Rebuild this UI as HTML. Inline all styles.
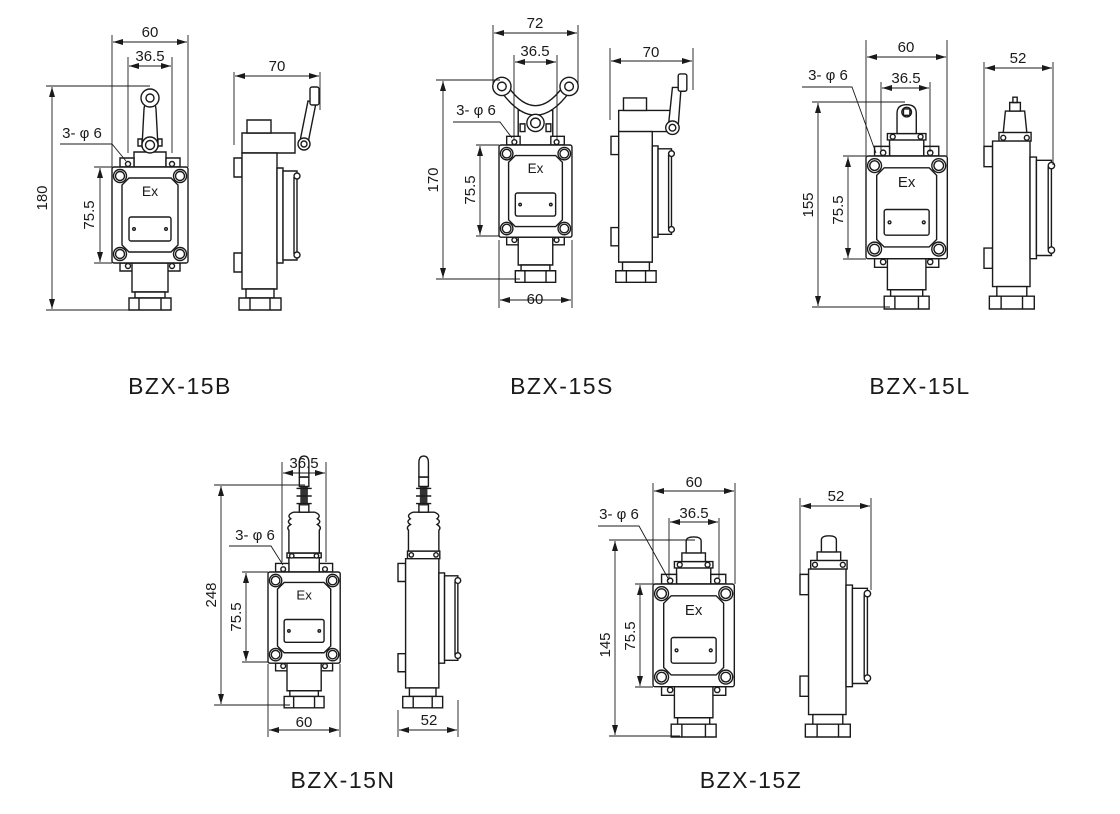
<!DOCTYPE html>
<html><head><meta charset="utf-8"><style>
html,body{margin:0;padding:0;background:#fff;}
svg{display:block;}
.s{fill:#fff;stroke:#1a1a1a;stroke-width:1.4;vector-effect:non-scaling-stroke;}
.n{fill:none;stroke:#1a1a1a;stroke-width:1.4;vector-effect:non-scaling-stroke;}
.d{fill:none;stroke:#1a1a1a;stroke-width:0.9;}
.t{font-family:"Liberation Sans",Arial,sans-serif;font-size:15px;fill:#1a1a1a;text-anchor:middle;}
.lb{font-family:"Liberation Sans",Arial,sans-serif;font-size:23px;letter-spacing:1.5px;fill:#1a1a1a;text-anchor:middle;}
</style></head><body>
<svg width="1120" height="814" viewBox="0 0 1120 814" xmlns="http://www.w3.org/2000/svg">
<defs>
<marker id="a" viewBox="0 0 10 6" refX="10" refY="3" markerWidth="10" markerHeight="6" orient="auto-start-reverse" markerUnits="userSpaceOnUse"><path d="M0,0 L10,3 L0,6 Z" fill="#1a1a1a"/></marker>
<g id="fb">
 <rect class="s" x="8" y="-9" width="14" height="9"/><rect class="s" x="54" y="-9" width="14" height="9"/>
 <circle class="s" cx="16" cy="-3" r="2.5"/><circle class="s" cx="60" cy="-3" r="2.5"/>
 <rect class="s" x="8" y="96" width="60" height="8"/>
 <rect class="s" x="20" y="96" width="36" height="29"/>
 <rect class="s" x="23" y="125" width="30" height="6"/>
 <rect class="s" x="17" y="131" width="42" height="12"/>
 <path class="n" d="M27,131V143M49,131V143"/>
 <circle class="s" cx="16" cy="99" r="2.5"/><circle class="s" cx="60" cy="99" r="2.5"/>
 <rect class="s" x="0" y="0" width="76" height="96" rx="2"/>
 <path class="n" d="M17,11H59L66,18V78L59,85H17L10,78V18Z"/>
 <circle class="s" cx="8" cy="9" r="6.5"/><circle cx="8" cy="9" r="4.5" fill="#ddd" class="n"/>
 <circle class="s" cx="68" cy="9" r="6.5"/><circle cx="68" cy="9" r="4.5" fill="#ddd" class="n"/>
 <circle class="s" cx="8" cy="87" r="6.5"/><circle cx="8" cy="87" r="4.5" fill="#ddd" class="n"/>
 <circle class="s" cx="68" cy="87" r="6.5"/><circle cx="68" cy="87" r="4.5" fill="#ddd" class="n"/>
 <text x="38" y="29" class="t" style="font-size:14px">Ex</text>
 <rect class="s" x="17" y="50" width="42" height="24" rx="2"/>
 <circle class="n" cx="22" cy="62" r="1.3"/><circle class="n" cx="54" cy="62" r="1.3"/>
</g>
<g id="sb">
 <rect class="s" x="0" y="-9" width="8" height="19"/><rect class="s" x="0" y="86" width="8" height="19"/>
 <rect class="s" x="8" y="-14" width="35" height="136"/>
 <rect class="s" x="12" y="122" width="28" height="9"/>
 <rect class="s" x="5" y="131" width="42" height="12"/>
 <path class="n" d="M16,131V143M36,131V143"/>
 <rect class="s" x="43" y="1" width="6" height="95"/>
 <rect class="s" x="49" y="4" width="14" height="89"/>
 <path class="n" d="M60,10V87"/>
 <circle class="s" cx="63" cy="9" r="3"/><circle class="s" cx="63" cy="88" r="3"/>
</g>
<g id="ft">
 <rect class="s" x="22" y="-15" width="32" height="15"/>
</g>
</defs>

<!-- ============ BZX-15B ============ -->
<g transform="translate(112,167)">
 <use href="#ft"/>
 <path class="s" d="M30,-20 L32,-58 Q33,-66 38,-66 Q43,-66 44,-58 L46,-20 Z"/>
 <circle class="s" cx="38" cy="-69" r="9"/><circle class="s" cx="38" cy="-69" r="4"/>
 <rect class="s" x="26" y="-28" width="4" height="7"/><rect class="s" x="46" y="-28" width="4" height="7"/>
 <circle class="s" cx="38" cy="-22" r="8"/><circle class="s" cx="38" cy="-22" r="4.5"/>
 <use href="#fb"/>
</g>
<g transform="translate(234,167)">
 <rect class="s" x="8" y="-34" width="53" height="20"/>
 <rect class="s" x="13" y="-47" width="24" height="13"/>
 <path class="s" d="M66,-26 L74,-66 L82,-64 L74,-24 Z"/>
 <rect class="s" x="76" y="-80" width="9" height="18" rx="2"/>
 <circle class="s" cx="70" cy="-23" r="6"/><circle class="s" cx="70" cy="-23" r="3"/>
 <use href="#sb"/>
</g>
<g>
 <path class="d" d="M112,35V167M188,35V167M128,57V153M172,57V153"/>
 <path class="d" d="M113,42H187" marker-start="url(#a)" marker-end="url(#a)"/>
 <path class="d" d="M129,66H171" marker-start="url(#a)" marker-end="url(#a)"/>
 <text x="150" y="37" class="t">60</text><text x="150" y="61" class="t">36.5</text>
 <path class="d" d="M46,86H150M46,310H132"/>
 <path class="d" d="M52,87V309" marker-start="url(#a)" marker-end="url(#a)"/>
 <text class="t" transform="translate(47,198) rotate(-90)">180</text>
 <path class="d" d="M94,167H112M94,263H112"/>
 <path class="d" d="M100,168V262" marker-start="url(#a)" marker-end="url(#a)"/>
 <text class="t" transform="translate(94,215) rotate(-90)">75.5</text>
 <text x="82" y="138" class="t">3- φ 6</text>
 <path class="d" d="M60,144H112L126,161"/>
 <path class="d" d="M234,72V145M320,72V110"/>
 <path class="d" d="M235,76H319" marker-start="url(#a)" marker-end="url(#a)"/>
 <text x="277" y="71" class="t">70</text>
 <text x="180" y="394" class="lb">BZX-15B</text>
</g>

<!-- ============ BZX-15S ============ -->
<g transform="translate(499,145) scale(0.96)">
 <rect class="s" x="20" y="-36" width="36" height="36"/>
 <path class="s" d="M2,-56 Q38,-6 74,-56 L66,-60 Q38,-22 10,-60 Z"/>
 <circle class="s" cx="3" cy="-61" r="9.5"/><circle class="s" cx="3" cy="-61" r="4.5"/>
 <circle class="s" cx="73" cy="-61" r="9.5"/><circle class="s" cx="73" cy="-61" r="4.5"/>
 <rect class="s" x="22" y="-22" width="5" height="8"/><rect class="s" x="49" y="-22" width="5" height="8"/>
 <circle class="s" cx="38" cy="-23" r="9"/><circle class="s" cx="38" cy="-23" r="5"/>
 <use href="#fb"/>
</g>
<g transform="translate(611,145) scale(0.96)">
 <rect class="s" x="8" y="-36" width="54" height="22"/>
 <rect class="s" x="13" y="-49" width="24" height="13"/>
 <path class="s" d="M60,-22 L64,-60 L73,-60 L70,-20 Z"/>
 <rect class="s" x="70" y="-74" width="9" height="18" rx="2"/>
 <circle class="s" cx="64" cy="-18" r="7"/><circle class="s" cx="64" cy="-18" r="3.5"/>
 <use href="#sb"/>
</g>
<g>
 <path class="d" d="M493,25V85M578,25V85M514,55V140M557,55V140"/>
 <path class="d" d="M494,33H577" marker-start="url(#a)" marker-end="url(#a)"/>
 <path class="d" d="M515,62H556" marker-start="url(#a)" marker-end="url(#a)"/>
 <text x="535" y="28" class="t">72</text><text x="535" y="56" class="t">36.5</text>
 <path class="d" d="M436,80H500M436,279H520"/>
 <path class="d" d="M443,81V278" marker-start="url(#a)" marker-end="url(#a)"/>
 <text class="t" transform="translate(438,180) rotate(-90)">170</text>
 <path class="d" d="M476,145H499M476,236H499"/>
 <path class="d" d="M480,146V235" marker-start="url(#a)" marker-end="url(#a)"/>
 <text class="t" transform="translate(475,190) rotate(-90)">75.5</text>
 <text x="476" y="115" class="t">3- φ 6</text>
 <path class="d" d="M453,122H500L512,138"/>
 <path class="d" d="M499,240V308M572,240V308"/>
 <path class="d" d="M500,300H571" marker-start="url(#a)" marker-end="url(#a)"/>
 <text x="535" y="304" class="t">60</text>
 <path class="d" d="M610,48V120M693,48V90"/>
 <path class="d" d="M611,61H692" marker-start="url(#a)" marker-end="url(#a)"/>
 <text x="651" y="57" class="t">70</text>
 <text x="562" y="394" class="lb">BZX-15S</text>
</g>

<!-- ============ BZX-15L ============ -->
<g transform="translate(866,156) scale(1.07)">
 <use href="#ft"/>
 <rect class="s" x="20" y="-21" width="36" height="6"/>
 <circle class="s" cx="25" cy="-18" r="2.3"/><circle class="s" cx="51" cy="-18" r="2.3"/>
 <path class="s" d="M29,-21 V-40 Q29,-48 38,-48 Q47,-48 47,-40 V-21 Z"/>
 <circle class="s" cx="38" cy="-41" r="4.5"/><rect class="n" x="35" y="-44" width="6" height="6"/>
 <use href="#fb"/>
</g>
<g transform="translate(984,156) scale(1.07)">
 <rect class="s" x="14" y="-22" width="30" height="8"/>
 <circle class="s" cx="18" cy="-17" r="2.3"/><circle class="s" cx="40" cy="-17" r="2.3"/>
 <path class="s" d="M18,-22 L20,-42 H38 L40,-22 Z"/>
 <rect class="s" x="24" y="-50" width="10" height="8"/>
 <rect class="s" x="27" y="-55" width="4" height="5"/>
 <use href="#sb"/>
</g>
<g>
 <path class="d" d="M866,40V156M947,40V156M881,82V152M930,82V152"/>
 <path class="d" d="M867,57H946" marker-start="url(#a)" marker-end="url(#a)"/>
 <path class="d" d="M882,88H929" marker-start="url(#a)" marker-end="url(#a)"/>
 <text x="906" y="52" class="t">60</text><text x="906" y="83" class="t">36.5</text>
 <path class="d" d="M812,102H905M812,307H890"/>
 <path class="d" d="M818,103V306" marker-start="url(#a)" marker-end="url(#a)"/>
 <text class="t" transform="translate(813,205) rotate(-90)">155</text>
 <path class="d" d="M843,156H866M843,259H866"/>
 <path class="d" d="M848,157V258" marker-start="url(#a)" marker-end="url(#a)"/>
 <text class="t" transform="translate(843,210) rotate(-90)">75.5</text>
 <text x="828" y="80" class="t">3- φ 6</text>
 <path class="d" d="M802,87H852L876,153"/>
 <path class="d" d="M984,62V150M1053,62V165"/>
 <path class="d" d="M985,68H1052" marker-start="url(#a)" marker-end="url(#a)"/>
 <text x="1018" y="63" class="t">52</text>
 <text x="920" y="394" class="lb">BZX-15L</text>
</g>

<!-- ============ BZX-15N ============ -->
<g transform="translate(268,572) scale(0.95)">
 <use href="#ft"/>
 <rect class="s" x="20" y="-20" width="36" height="5"/>
 <circle class="s" cx="25" cy="-17" r="2.3"/><circle class="s" cx="51" cy="-17" r="2.3"/>
 <path class="s" d="M22,-20 V-44 Q19,-47 24,-50 Q19,-53 24,-56 Q19,-60 27,-63 H49 Q57,-60 52,-56 Q57,-53 52,-50 Q57,-47 54,-44 V-20 Z"/>
 <rect class="s" x="33" y="-71" width="10" height="8"/>
 <rect fill="#333" x="34" y="-90" width="8" height="20"/>
 <path class="n" d="M30,-88H46M30,-80H46M30,-72H46"/>
 <rect class="s" x="33" y="-100" width="10" height="10"/>
 <path class="s" d="M33,-100 V-115 Q33,-122 38,-122 Q43,-122 43,-115 V-100 Z"/>
 <use href="#fb"/>
</g>
<g transform="translate(398,572) scale(0.95)">
 <rect class="s" x="10" y="-22" width="34" height="8"/>
 <circle class="s" cx="14" cy="-18" r="2.3"/><circle class="s" cx="40" cy="-18" r="2.3"/>
 <path class="s" d="M11,-22 V-44 Q8,-47 13,-50 Q8,-53 13,-56 Q8,-60 16,-63 H38 Q46,-60 41,-56 Q46,-53 41,-50 Q46,-47 43,-44 V-22 Z"/>
 <rect class="s" x="22" y="-71" width="10" height="8"/>
 <rect fill="#333" x="23" y="-90" width="8" height="20"/>
 <path class="n" d="M19,-88H35M19,-80H35M19,-72H35"/>
 <rect class="s" x="22" y="-100" width="10" height="10"/>
 <path class="s" d="M22,-100 V-115 Q22,-122 27,-122 Q32,-122 32,-115 V-100 Z"/>
 <use href="#sb"/>
</g>
<g>
 <path class="d" d="M282,462V562M326,462V562"/>
 <path class="d" d="M283,473H325" marker-start="url(#a)" marker-end="url(#a)"/>
 <text x="304" y="468" class="t">36.5</text>
 <path class="d" d="M214,485H305M214,705H290"/>
 <path class="d" d="M221,486V704" marker-start="url(#a)" marker-end="url(#a)"/>
 <text class="t" transform="translate(216,595) rotate(-90)">248</text>
 <path class="d" d="M242,572H268M242,662H268"/>
 <path class="d" d="M246,573V661" marker-start="url(#a)" marker-end="url(#a)"/>
 <text class="t" transform="translate(241,617) rotate(-90)">75.5</text>
 <text x="255" y="540" class="t">3- φ 6</text>
 <path class="d" d="M229,546H271L283,565"/>
 <path class="d" d="M268,664V737M340,664V737"/>
 <path class="d" d="M269,730H339" marker-start="url(#a)" marker-end="url(#a)"/>
 <text x="304" y="727" class="t">60</text>
 <path class="d" d="M398,710V737M458,700V737"/>
 <path class="d" d="M399,730H457" marker-start="url(#a)" marker-end="url(#a)"/>
 <text x="429" y="725" class="t">52</text>
 <text x="343" y="788" class="lb">BZX-15N</text>
</g>

<!-- ============ BZX-15Z ============ -->
<g transform="translate(653,584) scale(1.07)">
 <use href="#ft"/>
 <rect class="s" x="20" y="-21" width="36" height="6"/>
 <circle class="s" cx="25" cy="-18" r="2.3"/><circle class="s" cx="51" cy="-18" r="2.3"/>
 <rect class="s" x="27" y="-29" width="22" height="8"/>
 <path class="s" d="M31,-29 V-40 Q31,-44 38,-44 Q45,-44 45,-40 V-29 Z"/>
 <use href="#fb"/>
</g>
<g transform="translate(800,584) scale(1.07)">
 <rect class="s" x="10" y="-22" width="34" height="8"/>
 <circle class="s" cx="14" cy="-18" r="2.3"/><circle class="s" cx="40" cy="-18" r="2.3"/>
 <rect class="s" x="16" y="-30" width="22" height="8"/>
 <path class="s" d="M20,-30 V-41 Q20,-45 27,-45 Q34,-45 34,-41 V-30 Z"/>
 <use href="#sb"/>
</g>
<g>
 <path class="d" d="M653,483V584M735,483V584M669,518V578M719,518V578"/>
 <path class="d" d="M654,491H734" marker-start="url(#a)" marker-end="url(#a)"/>
 <path class="d" d="M670,522H718" marker-start="url(#a)" marker-end="url(#a)"/>
 <text x="694" y="487" class="t">60</text><text x="694" y="518" class="t">36.5</text>
 <path class="d" d="M609,540H695M609,736H680"/>
 <path class="d" d="M615,541V735" marker-start="url(#a)" marker-end="url(#a)"/>
 <text class="t" transform="translate(610,645) rotate(-90)">145</text>
 <path class="d" d="M635,584H653M635,687H653"/>
 <path class="d" d="M640,585V686" marker-start="url(#a)" marker-end="url(#a)"/>
 <text class="t" transform="translate(635,636) rotate(-90)">75.5</text>
 <text x="619" y="519" class="t">3- φ 6</text>
 <path class="d" d="M598,526H639L669,580"/>
 <path class="d" d="M800,498V580M871,498V590"/>
 <path class="d" d="M801,506H870" marker-start="url(#a)" marker-end="url(#a)"/>
 <text x="836" y="501" class="t">52</text>
 <text x="751" y="788" class="lb">BZX-15Z</text>
</g>
</svg>
</body></html>
